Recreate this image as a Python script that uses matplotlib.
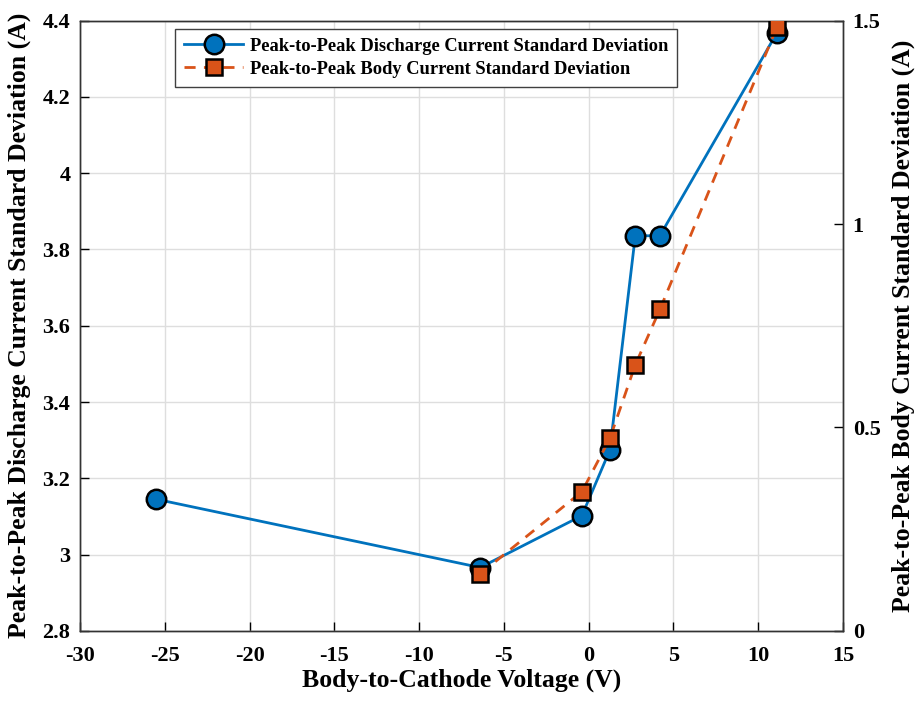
import matplotlib.pyplot as plt
import numpy as np

# data
voltage = [-25.5, -6.4, -0.4, 1.25, 2.75, 4.2, 11.1]
discharge_std = [3.145, 2.966, 3.102, 3.274, 3.836, 3.836, 4.368]

voltage_body = [-6.4, -0.4, 1.25, 2.75, 4.2, 11.1]
body_std = [0.14, 0.342, 0.473, 0.654, 0.790, 1.484]

xticks = np.arange(-30, 16, 5)
yticks_left = [2.8, 3, 3.2, 3.4, 3.6, 3.8, 4, 4.2, 4.4]
ytick_left_labels = ['2.8', '3', '3.2', '3.4', '3.6', '3.8', '4', '4.2', '4.4']
yticks_right = [0, 0.5, 1, 1.5]
ytick_right_labels = ['0', '0.5', '1', '1.5']

plt.rcParams['font.family'] = 'Liberation Serif'
plt.rcParams['font.weight'] = 'bold'
plt.rcParams['font.size'] = 16
plt.rcParams['axes.unicode_minus'] = False

blue = '#0072BD'
orange = '#D95319'

fig = plt.figure(figsize=(9.21, 7.02), dpi=100)
ax = fig.add_axes([0.0869, 0.1014, 0.8284, 0.8691])
ax2 = ax.twinx()

l1, = ax.plot(voltage, discharge_std, '-o', color=blue, lw=2, ms=14,
              mfc=blue, mec='black', mew=1.8, zorder=3,
              label='Peak-to-Peak Discharge Current Standard Deviation')
l2, = ax2.plot(voltage_body, body_std, '--s', color=orange, lw=2, ms=11,
               mfc=orange, mec='black', mew=1.8, dashes=(4, 3), zorder=3,
               label='Peak-to-Peak Body Current Standard Deviation')

ax.set_xlim(-30, 15)
ax.set_ylim(2.8, 4.4)
ax2.set_ylim(0, 1.5)
ax.set_xticks(xticks)
ax.set_yticks(yticks_left)
ax.set_yticklabels(ytick_left_labels)
ax2.set_yticks(yticks_right)
ax2.set_yticklabels(ytick_right_labels)

ax.grid(True, color='#dedede', lw=1)
ax.set_axisbelow(True)
for a in (ax, ax2):
    a.tick_params(direction='in', length=6.5, width=1, top=False, labelsize=16)
    for s in a.spines.values():
        s.set_linewidth(1)
        s.set_color('#333333')
ax.tick_params(axis='x', pad=11)
ax.tick_params(axis='y', pad=7)
ax2.tick_params(axis='y', pad=7)

ax.set_xlabel('Body-to-Cathode Voltage (V)', fontsize=18.5, fontweight='bold', labelpad=2)
ax.set_ylabel('Peak-to-Peak Discharge Current Standard Deviation (A)', fontsize=18.5,
              fontweight='bold', labelpad=8)
ax2.set_ylabel('Peak-to-Peak Body Current Standard Deviation (A)', fontsize=18.5,
               fontweight='bold', labelpad=8)

leg = ax.legend(handles=[l1, l2], loc='upper left', bbox_to_anchor=(0.1243, 0.987),
                borderaxespad=0, fancybox=False, edgecolor='#404040', framealpha=1,
                fontsize=13.3, handlelength=3.2, handletextpad=0.35, borderpad=0.5,
                labelspacing=0.32)
leg.get_frame().set_linewidth(1)

fig.savefig('out.png', dpi=100)
